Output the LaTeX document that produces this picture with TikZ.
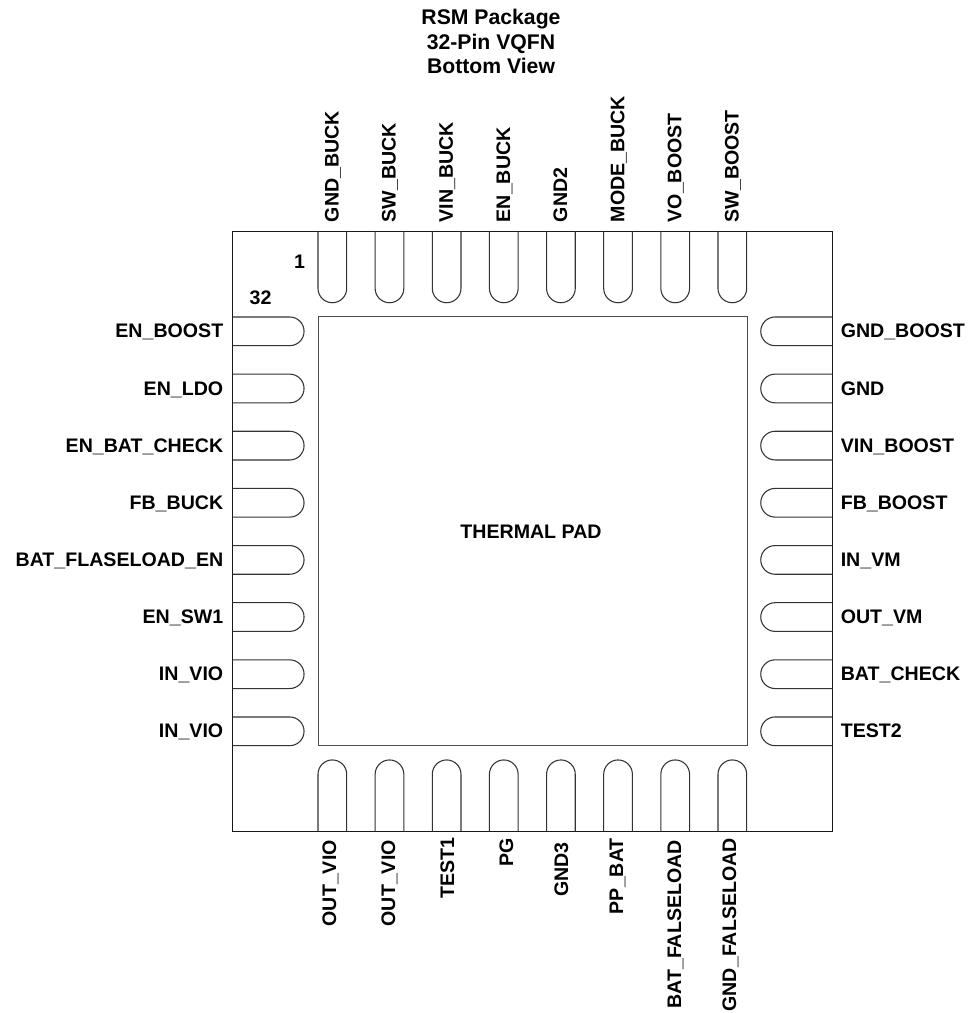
\documentclass[tikz,border=0pt]{standalone}
\usepackage{fontspec}
\setmainfont{Liberation Sans}
\tikzset{
  pinlabel/.style={font=\bfseries\fontsize{14.7}{18}\selectfont, inner sep=0pt, text height=10.5pt, text depth=0pt},
  titletext/.style={font=\bfseries\fontsize{15.9}{18.15}\selectfont, inner sep=0pt, align=center},
  outline/.style={draw=black!90, line width=0.9pt},
  padedge/.style={draw=black!70, line width=0.75pt},
  pinedge/.style={draw=black!80, line width=0.8pt},
}
\begin{document}
\begin{tikzpicture}[x=0.75pt,y=0.75pt]
\useasboundingbox (0,0) rectangle (968,1013);
\coordinate (BL) at (232.5,181.5);
\coordinate (TR) at (832.5,781.5);
\draw[outline] (BL) rectangle (TR);
\draw[padedge] (318,267) rectangle (747,696);
\node[pinlabel] (pad) at (531,481.5) {THERMAL PAD};
\node[titletext] (title) at (491,971.5) {RSM Package\\32-Pin VQFN\\Bottom View};
\node[pinlabel] (one) at (299.5,751) {1};
\node[pinlabel] (corner) at (260.5,715) {32};
% top row
\foreach \i/\A in {0/GND\_BUCK,1/SW\_BUCK,2/VIN\_BUCK,3/EN\_BUCK,4/GND2,5/MODE\_BUCK,6/VO\_BOOST,7/SW\_BOOST}{
\pgfmathsetmacro{\xx}{318+57.14*\i}
\draw[pinedge] (\xx,781.5) -- (\xx,724.6) arc (180:360:14.35) -- +(0,56.9);
\node[pinlabel, rotate=90, anchor=west] (top\i) at (\xx+13.6,790.5) {\A};
}
% bottom row
\foreach \i/\A/\xtxt/\ytxt in {0/OUT\_VIO/329/173,1/OUT\_VIO/388/173,2/TEST1/447/176,3/PG/506/175,4/GND3/561/171,5/PP\_BAT/616/175,6/BAT\_FALSELOAD/674/173,7/GND\_FALSELOAD/729/175}{
\pgfmathsetmacro{\xx}{318+57.14*\i}
\draw[pinedge] (\xx,181.5) -- (\xx,238.7) arc (180:0:14.35) -- +(0,-57.2);
\node[pinlabel, rotate=90, anchor=east] (bot\i) at (\xtxt,\ytxt) {\A};
}
% left row
\foreach \i/\A in {0/EN\_BOOST,1/EN\_LDO,2/EN\_BAT\_CHECK,3/FB\_BUCK,4/BAT\_FLASELOAD\_EN,5/EN\_SW1,6/IN\_VIO,7/IN\_VIO}{
\pgfmathsetmacro{\yy}{696-57.14*\i}
\draw[pinedge] (232.5,\yy) -- (289.7,\yy) arc (90:-90:14.35) -- +(-57.2,0);
\node[pinlabel, anchor=east] (left\i) at (223.5,\yy-13.9) {\A};
}
% right row
\foreach \i/\A in {0/GND\_BOOST,1/GND,2/VIN\_BOOST,3/FB\_BOOST,4/IN\_VM,5/OUT\_VM,6/BAT\_CHECK,7/TEST2}{
\pgfmathsetmacro{\yy}{696-57.14*\i}
\draw[pinedge] (832.5,\yy) -- (775.1,\yy) arc (90:270:14.35) -- +(57.4,0);
\node[pinlabel, anchor=west] (right\i) at (840.5,\yy-13.9) {\A};
}
\end{tikzpicture}
\end{document}
